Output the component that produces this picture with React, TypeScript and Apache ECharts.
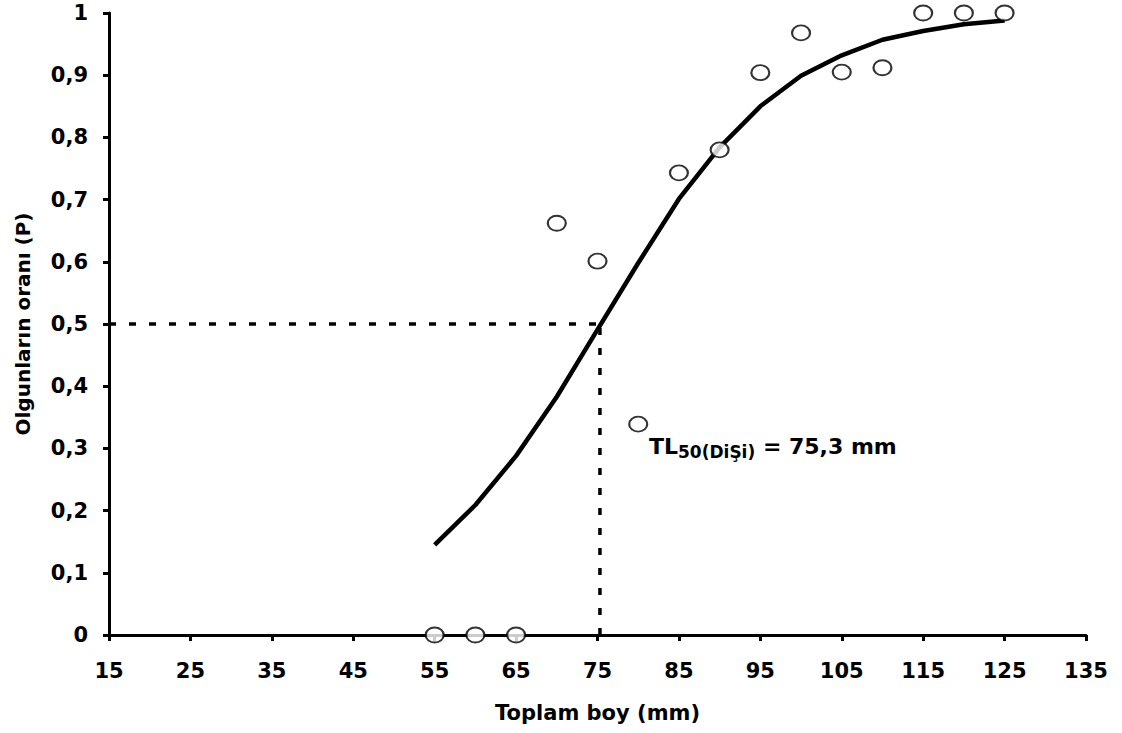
import React, { useEffect, useRef } from "react";
import * as echarts from "echarts";

const lengths = [55, 60, 65, 70, 75, 80, 85, 90, 95, 100, 105, 110, 115, 120, 125];
const observed = [0, 0, 0, 0.662, 0.601, 0.339, 0.743, 0.78, 0.904, 0.968, 0.905, 0.912, 1, 1, 1];
const fitted = [0.145, 0.209, 0.288, 0.383, 0.491, 0.598, 0.701, 0.784, 0.85, 0.899, 0.932, 0.957, 0.971, 0.982, 0.988];
const tl50 = 75.3;
const xMin = 15;
const xMax = 135;
const xName = "Toplam boy (mm)";
const yName = "Olgunların oranı (P)";

const FONT = "'DejaVu Sans', 'Liberation Sans', Arial, sans-serif";

export default function App() {
  const ref = useRef<HTMLDivElement>(null);
  useEffect(() => {
    if (!ref.current) return;
    const chart = echarts.init(ref.current, undefined, { renderer: "svg" });
    const ellipse = "path://M0,7.5 A9,7.5 0 1,0 18,7.5 A9,7.5 0 1,0 0,7.5 Z";
    chart.setOption({
      animation: false,
      backgroundColor: "#ffffff",
      grid: { left: 109, right: 36, top: 13, bottom: 98, containLabel: false },
      xAxis: {
        type: "value",
        min: xMin,
        max: xMax,
        interval: 10,
        name: xName,
        nameLocation: "middle",
        nameGap: 67,
        nameTextStyle: { fontFamily: FONT, fontWeight: "bold", fontSize: 21, color: "#000" },
        axisLine: { show: true, onZero: false, lineStyle: { color: "#000", width: 3 } },
        axisTick: { show: true, length: 6, lineStyle: { color: "#000", width: 3 } },
        axisLabel: { margin: 25, fontFamily: FONT, fontWeight: "bold", fontSize: 21, color: "#000" },
        splitLine: { show: false },
      },
      yAxis: {
        type: "value",
        min: 0,
        max: 1,
        interval: 0.1,
        name: yName,
        nameLocation: "middle",
        nameGap: 76,
        nameTextStyle: { fontFamily: FONT, fontWeight: "bold", fontSize: 20, color: "#000" },
        axisLine: { show: true, lineStyle: { color: "#000", width: 3 } },
        axisTick: { show: true, length: 6, lineStyle: { color: "#000", width: 3 } },
        axisLabel: {
          margin: 21,
          fontFamily: FONT,
          fontWeight: "bold",
          fontSize: 21,
          color: "#000",
          formatter: (v: number) => (v === 0 ? "0" : v === 1 ? "1" : v.toFixed(1).replace(".", ",")),
        },
        splitLine: { show: false },
      },
      series: [
        {
          type: "line",
          data: [[xMin, 0.5], [tl50, 0.5]],
          showSymbol: false,
          symbol: "none",
          lineStyle: { color: "#000", width: 3.5, type: [7, 13] },
          z: 2,
        },
        {
          type: "line",
          data: [[tl50, 0], [tl50, 0.5]],
          showSymbol: false,
          symbol: "none",
          lineStyle: { color: "#000", width: 3.5, type: [7, 13] },
          z: 2,
        },
        {
          type: "line",
          data: lengths.map((x, i) => [x, fitted[i]]),
          showSymbol: false,
          symbol: "none",
          lineStyle: { color: "#000", width: 4.5, cap: "butt", join: "round" },
          z: 3,
        },
        {
          type: "scatter",
          data: lengths.map((x, i) => [x, observed[i]]),
          symbol: ellipse,
          symbolSize: [18, 15],
          itemStyle: { color: "#fff", borderColor: "#000", borderWidth: 2 },
          z: 4,
        },
      ],
      graphic: [
        {
          type: "text",
          x: 649,
          y: 446,
          style: {
            text: "{a|TL}{b|50(DiŞi)}{a| = 75,3 mm}",
            verticalAlign: "middle",
            rich: {
              a: { fontFamily: FONT, fontWeight: "bold", fontSize: 22, fill: "#000", lineHeight: 26 },
              b: { fontFamily: FONT, fontWeight: "bold", fontSize: 17, fill: "#000", lineHeight: 26, padding: [12, 0, 0, 0] },
            },
          },
        },
      ],
    });
    return () => chart.dispose();
  }, []);
  return <div ref={ref} style={{ width: 1122, height: 733, position: "absolute", left: 0, top: 0 }} />;
}
